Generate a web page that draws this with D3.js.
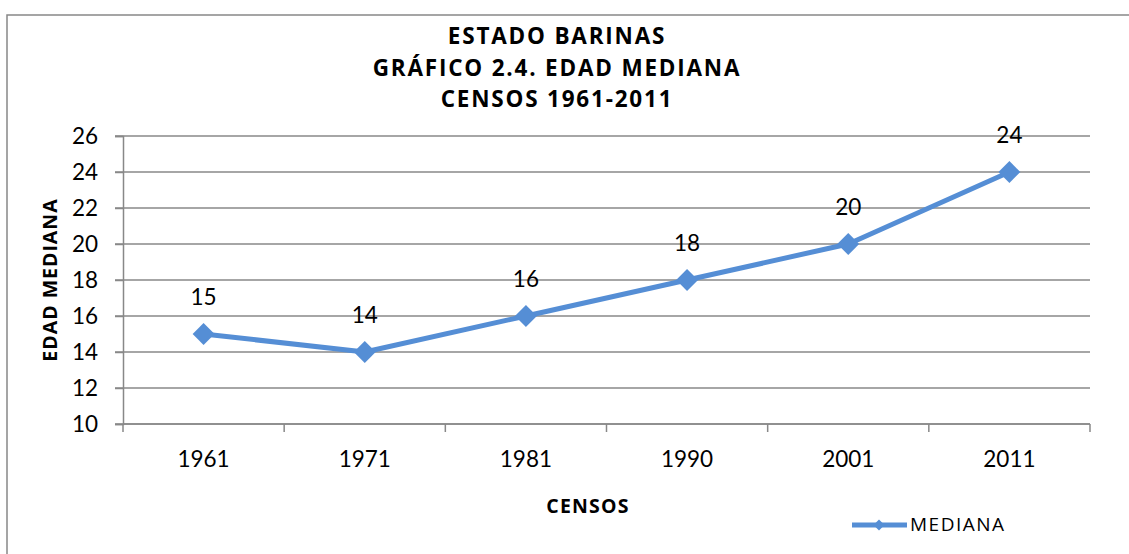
<!DOCTYPE html>
<html><head><meta charset="utf-8">
<script src="https://cdn.jsdelivr.net/npm/d3@7"></script>
<style>html,body{margin:0;padding:0;background:#fff;overflow:hidden}</style>
</head><body>
<svg id="c" width="1129" height="554"></svg>
<script>
const categories = ["1961","1971","1981","1990","2001","2011"];
const mediana = [15,14,16,18,20,24];
const yTicks = [10,12,14,16,18,20,22,24,26];
const titleLines = ["ESTADO BARINAS","GRÁFICO 2.4. EDAD MEDIANA","CENSOS 1961-2011"];
const seriesName = "MEDIANA";

const svg = d3.select("#c");
const blue = "#558ED5", grid = "#888888";
const font = "Lato, 'Open Sans', sans-serif";
const tfont = "'Open Sans', Lato, sans-serif";

svg.append("rect").attr("x",7).attr("y",15).attr("width",1140).attr("height",600)
  .attr("fill","#fff").attr("stroke",grid).attr("stroke-width",1.5);

const x = d3.scaleBand().domain(categories).range([123,1090]).paddingInner(0).paddingOuter(0);
const y = d3.scaleLinear().domain([10,26]).range([424,136]);

// title
svg.append("g").selectAll("text").data(titleLines).join("text")
  .attr("x",557).attr("y",(d,i)=>44+i*31.5).attr("text-anchor","middle")
  .attr("font-family",tfont).attr("font-weight","bold").attr("font-size",22.5)
  .attr("letter-spacing",1.8).text(d=>d);

// gridlines
svg.append("g").selectAll("line").data(yTicks).join("line")
  .attr("x1",115).attr("x2",1090).attr("y1",d=>y(d)).attr("y2",d=>y(d))
  .attr("stroke",grid).attr("stroke-width",1.5);

// y axis
const yAxis = svg.append("g").attr("transform","translate(123,0)")
  .call(d3.axisLeft(y).tickValues(yTicks).tickSize(8).tickPadding(17).tickFormat(d3.format("d")));
yAxis.select(".domain").attr("stroke",grid).attr("stroke-width",1.5);
yAxis.selectAll(".tick line").attr("stroke",grid).attr("stroke-width",1.5);
yAxis.selectAll("text").attr("font-family",font).attr("font-size",22.5).attr("fill","#000");

// x axis
const bounds = categories.map(c=>x(c)).concat([x.range()[1]]);
svg.append("g").selectAll("line").data(bounds).join("line")
  .attr("x1",d=>d).attr("x2",d=>d).attr("y1",424).attr("y2",432)
  .attr("stroke",grid).attr("stroke-width",1.5);
svg.append("line").attr("x1",123).attr("x2",1090).attr("y1",424).attr("y2",424)
  .attr("stroke",grid).attr("stroke-width",1.5);
svg.append("g").selectAll("text").data(categories).join("text")
  .attr("x",d=>x(d)+x.bandwidth()/2).attr("y",467).attr("text-anchor","middle")
  .attr("font-family",font).attr("font-size",22.5).text(d=>d);

// axis titles
svg.append("text").attr("transform","translate(57,280) rotate(-90)").attr("text-anchor","middle")
  .attr("font-family",tfont).attr("font-weight","bold").attr("font-size",19.5)
  .attr("letter-spacing",1).text("EDAD MEDIANA");
svg.append("text").attr("x",588).attr("y",513).attr("text-anchor","middle")
  .attr("font-family",tfont).attr("font-weight","bold").attr("font-size",19.5)
  .attr("letter-spacing",1.2).text("CENSOS");

// line
const pts = categories.map((c,i)=>({c, v:mediana[i]}));
svg.append("path").datum(pts)
  .attr("d", d3.line().x(d=>x(d.c)+x.bandwidth()/2).y(d=>y(d.v)))
  .attr("fill","none").attr("stroke",blue).attr("stroke-width",5).attr("stroke-linejoin","round");
const diamond = d3.symbol().type(d3.symbolSquare).size(240);
svg.append("g").selectAll("path").data(pts).join("path")
  .attr("d",diamond())
  .attr("transform",d=>`translate(${x(d.c)+x.bandwidth()/2},${y(d.v)}) rotate(45)`)
  .attr("fill",blue);
svg.append("g").selectAll("text").data(pts).join("text")
  .attr("x",d=>x(d.c)+x.bandwidth()/2).attr("y",d=>y(d.v)-29).attr("text-anchor","middle")
  .attr("font-family",font).attr("font-size",22.5).text(d=>d.v);

// legend
svg.append("line").attr("x1",852).attr("x2",907).attr("y1",525).attr("y2",525)
  .attr("stroke",blue).attr("stroke-width",5);
svg.append("path").attr("d",d3.symbol().type(d3.symbolSquare).size(60)())
  .attr("transform","translate(879,525) rotate(45)").attr("fill",blue);
svg.append("text").attr("x",910).attr("y",531).attr("font-family",tfont).attr("font-size",19)
  .attr("letter-spacing",1.5).text(seriesName);
</script>
</body></html>
